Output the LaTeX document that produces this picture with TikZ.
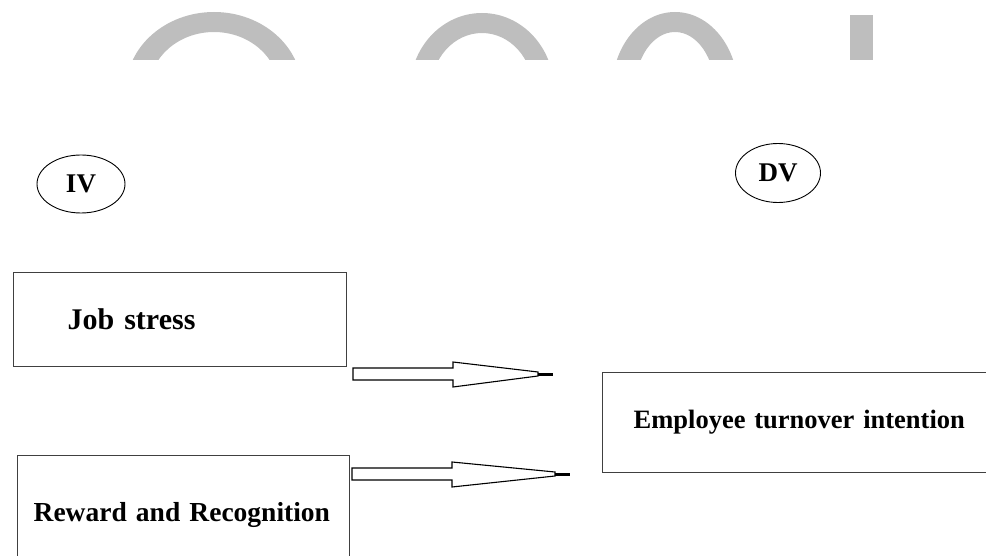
\documentclass[tikz,border=0pt]{standalone}
\usepackage{fontspec}
\setmainfont{Liberation Serif}
\usetikzlibrary{positioning,shapes.geometric}
\definecolor{wmgray}{RGB}{190,190,190}
\definecolor{boxline}{RGB}{64,64,64}
\tikzset{
  boxnode/.style={draw=boxline, line width=1.3pt, rectangle, anchor=north west, align=left, font=\bfseries\fontsize{26.5}{32}\selectfont},
  varnode/.style={draw, ellipse, line width=0.9pt, inner sep=0pt, font=\bfseries\fontsize{27}{32}\selectfont},
  hollow/.style={draw=black, line width=1.1pt, fill=white},
  tipline/.style={line width=3pt}
}
\begin{document}
\begin{tikzpicture}[x=1pt,y=-1pt]
\useasboundingbox (0,0) rectangle (986,556);
\clip (0,0) rectangle (986,556);
% watermark at the top
\begin{scope}
  \clip (0,0) rectangle (986,60);
  \fill[wmgray, even odd rule] (214,90) ellipse [x radius=88, y radius=78] (214,90) ellipse [x radius=65, y radius=58];
  \fill[wmgray, even odd rule] (482,90) ellipse [x radius=72, y radius=77] (482,90) ellipse [x radius=51, y radius=57];
  \fill[wmgray, even odd rule] (675,90) ellipse [x radius=63, y radius=78] (675,90) ellipse [x radius=40, y radius=58];
  \fill[wmgray] (850,15) rectangle (873,60);
\end{scope}
% variables
\node[varnode, minimum width=88pt, minimum height=58pt] (iv) at (81,184) {IV};
\node[varnode, minimum width=85pt, minimum height=59pt] (dv) at (778,173) {DV};
\node[boxnode, minimum height=94pt, text width=225pt, inner xsep=54pt, font=\bfseries\fontsize{30}{36}\selectfont] (js) at (13,272) {Job stress};
\node[boxnode, minimum height=118pt, text width=300pt, inner xsep=16pt, font=\bfseries\fontsize{27.5}{33}\selectfont] (rr) at (17,455) {Reward and Recognition};
\node[boxnode, minimum height=100pt, text width=380pt, inner xsep=31pt] (et) at (602,372) {Employee turnover intention};
% block arrows
\coordinate (a1) at (353,374);
\coordinate (a2) at (352,474);
\draw[hollow, shift={(a1)}] (0,-6) -- (100,-6) -- (100,-12) -- (185,-2) -- (185,2) -- (100,13) -- (100,6) -- (0,6) -- cycle;
\draw[tipline, shift={(a1)}] (185,0) -- (200,0);
\draw[hollow, shift={(a2)}] (0,-6) -- (100,-6) -- (100,-12) -- (203,-2) -- (203,2) -- (100,13) -- (100,6) -- (0,6) -- cycle;
\draw[tipline, shift={(a2)}] (203,0) -- (218,0);
\end{tikzpicture}
\end{document}
